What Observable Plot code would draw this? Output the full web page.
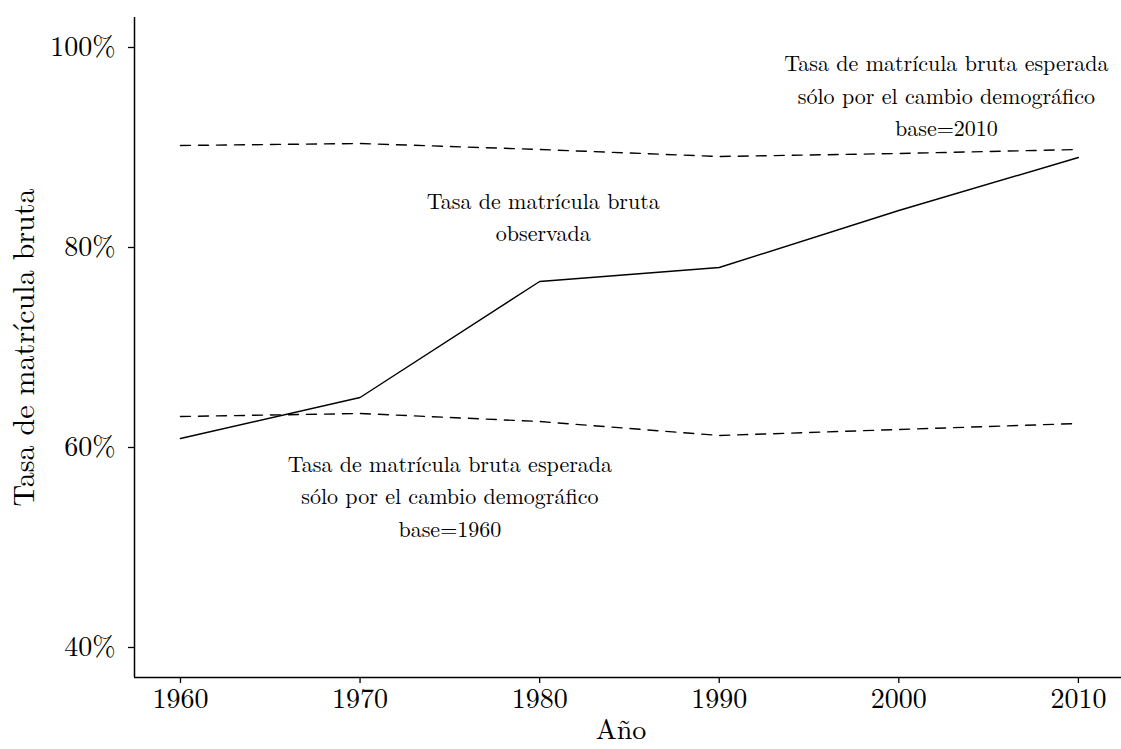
<!DOCTYPE html>
<html><head><meta charset="utf-8">
<script src="https://cdn.jsdelivr.net/npm/d3@7"></script>
<script src="https://cdn.jsdelivr.net/npm/@observablehq/plot@0.6"></script>
<style>body{margin:0;background:#fff}</style>
</head><body><div id="chart"></div>
<script>
const years = [1960, 1970, 1980, 1990, 2000, 2010];
const observada = [60.9, 65.0, 76.6, 78.0, 83.7, 89.0];
const base2010 = [90.2, 90.4, 89.8, 89.1, 89.4, 89.8];
const base1960 = [63.1, 63.4, 62.6, 61.2, 61.8, 62.4];
const yTicks = [40, 60, 80, 100];
const xTicks = [1960, 1970, 1980, 1990, 2000, 2010];
const labelText = [
  "Tasa de matrícula bruta\nobservada",
  "Tasa de matrícula bruta esperada\nsólo por el cambio demográfico\nbase=2010",
  "Tasa de matrícula bruta esperada\nsólo por el cambio demográfico\nbase=1960"
];
const labelX = [1980.2, 2002.65, 1975.0];
const labelY = [83.3, 95.4, 55.35];
const xDomain = [1957.44, 2012.4];
const yDomain = [37, 103];

const rows = (vals) => years.map((y, i) => ({year: y, value: vals[i]}));
const labels = labelText.map((t, i) => ({text: t, x: labelX[i], y: labelY[i]}));
const FONT = "'Latin Modern Roman','CMU Serif','Liberation Serif',serif";

const chart = Plot.plot({
  width: 1121,
  height: 749,
  marginLeft: 134,
  marginRight: 0,
  marginTop: 17,
  marginBottom: 72,
  style: {fontFamily: FONT, background: "#fff", color: "#000"},
  x: {domain: xDomain},
  y: {domain: yDomain},
  marks: [
    Plot.axisY({ticks: yTicks, tickFormat: d => d + "%", tickSize: 6, tickPadding: 13, fontSize: 28, label: null, stroke: "#000", strokeWidth: 1.3}),
    Plot.axisX({ticks: xTicks, tickFormat: d => String(d), tickSize: 6, tickPadding: 5, fontSize: 28, label: null, stroke: "#000", strokeWidth: 1.3}),
    Plot.ruleX([xDomain[0]], {stroke: "#000", strokeWidth: 1.5}),
    Plot.ruleY([yDomain[0]], {stroke: "#000", strokeWidth: 1.5}),
    Plot.line(rows(base2010), {x: "year", y: "value", stroke: "#000", strokeWidth: 1.4, strokeDasharray: "10,8"}),
    Plot.line(rows(base1960), {x: "year", y: "value", stroke: "#000", strokeWidth: 1.4, strokeDasharray: "10,8"}),
    Plot.line(rows(observada), {x: "year", y: "value", stroke: "#000", strokeWidth: 1.4}),
    Plot.text(labels, {x: "x", y: "y", text: "text", fontSize: 22, lineHeight: 1.48, fill: "#000", textAnchor: "middle", lineAnchor: "middle"}),
    Plot.text(["Tasa de matrícula bruta"], {frameAnchor: "left", textAnchor: "middle", rotate: -90, dx: -110, fontSize: 30, fill: "#000"}),
    Plot.text(["Año"], {frameAnchor: "bottom", dy: 61, dx: -7, fontSize: 28, fill: "#000"})
  ]
});
document.getElementById("chart").appendChild(chart);
</script>
</body></html>
